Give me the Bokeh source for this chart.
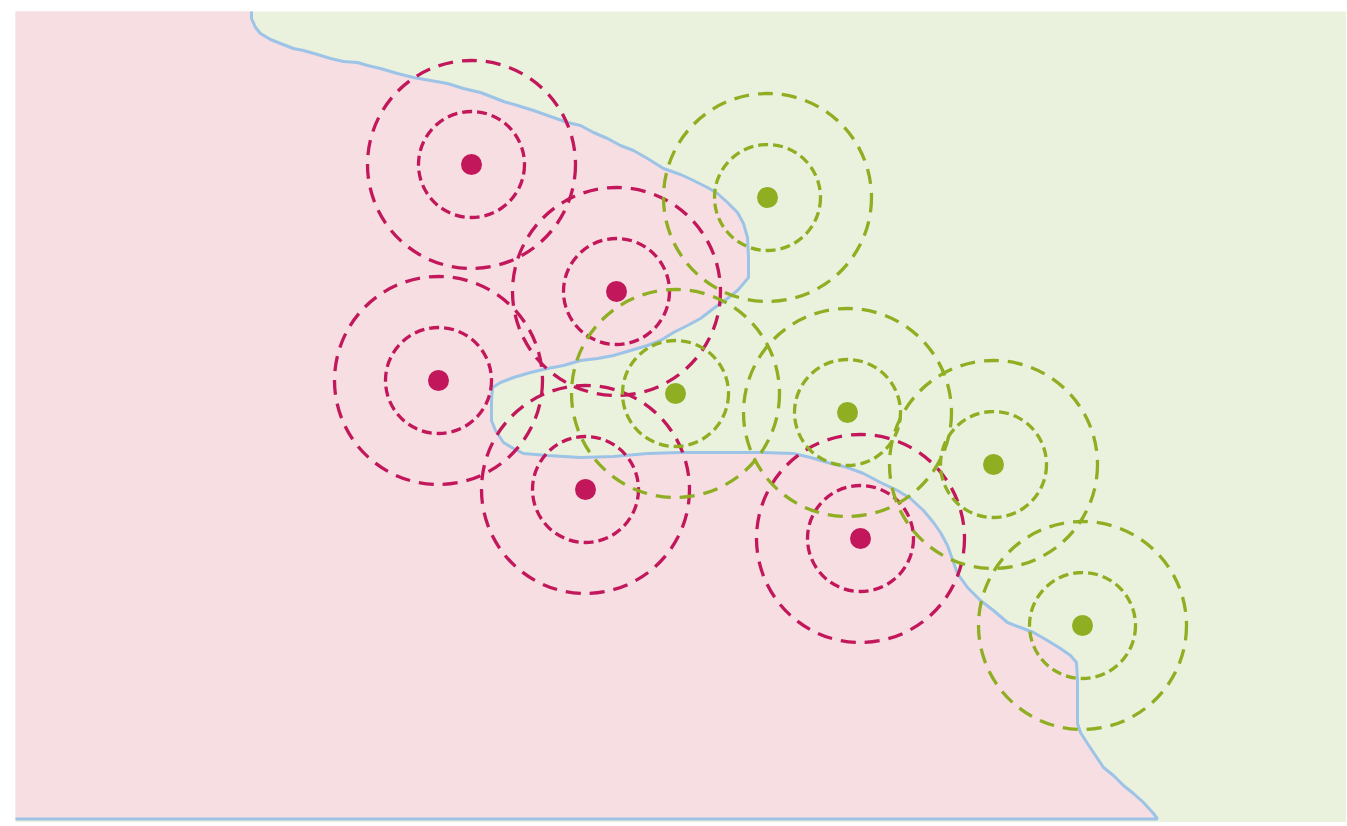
from bokeh.plotting import figure
from bokeh.models import Range1d
from bokeh.embed import file_html
from bokeh.resources import INLINE

# Class A (crimson) and class B (olive) sample points
red_x = [4.56, 6.01, 4.23, 5.70, 8.45]
red_y = [6.58, 5.31, 4.42, 3.33, 2.84]
green_x = [7.52, 6.60, 8.32, 9.78, 10.67]
green_y = [6.25, 4.29, 4.10, 3.58, 1.97]

inner_radius = 0.53
outer_radius = 1.04

# Decision boundary
boundary_x = [2.36, 2.36, 2.40, 2.45, 2.55, 2.65, 2.78, 2.88, 3.02, 3.15, 3.28, 3.42, 3.52, 3.65,
              3.82, 3.98, 4.15, 4.32, 4.48, 4.65, 4.78, 4.88, 5.02, 5.18, 5.35, 5.52, 5.65, 5.78,
              5.92, 6.05, 6.18, 6.32, 6.48, 6.65, 6.78, 6.92, 7.02, 7.12, 7.22, 7.28, 7.32, 7.33,
              7.33, 7.28, 7.22, 7.12, 6.98, 6.85, 6.72, 6.58, 6.45, 6.32, 6.15, 5.98, 5.82, 5.65,
              5.48, 5.32, 5.15, 4.98, 4.85, 4.77, 4.76, 4.76, 4.80, 4.88, 4.98, 5.08, 5.32, 5.65,
              5.98, 6.32, 6.65, 6.98, 7.45, 7.78, 7.95, 8.12, 8.32, 8.48, 8.65, 8.82, 8.95, 9.08,
              9.18, 9.25, 9.32, 9.38, 9.42, 9.52, 9.65, 9.78, 9.92, 10.05, 10.18, 10.32, 10.45,
              10.55, 10.61, 10.62, 10.62, 10.62, 10.65, 10.72, 10.78, 10.88, 10.98, 11.08, 11.18,
              11.28, 11.38, 11.42, -0.20]
boundary_y = [8.20, 8.04, 7.95, 7.89, 7.83, 7.79, 7.74, 7.72, 7.68, 7.64, 7.61, 7.60, 7.57, 7.54,
              7.49, 7.45, 7.42, 7.39, 7.34, 7.30, 7.25, 7.21, 7.17, 7.12, 7.06, 7.00, 6.97, 6.90,
              6.84, 6.77, 6.72, 6.64, 6.54, 6.48, 6.42, 6.35, 6.29, 6.20, 6.10, 5.99, 5.85, 5.65,
              5.45, 5.39, 5.32, 5.24, 5.14, 5.04, 4.97, 4.90, 4.82, 4.77, 4.72, 4.67, 4.64, 4.62,
              4.57, 4.54, 4.50, 4.45, 4.40, 4.35, 4.22, 4.02, 3.92, 3.80, 3.74, 3.69, 3.67, 3.65,
              3.66, 3.69, 3.70, 3.70, 3.70, 3.69, 3.65, 3.60, 3.55, 3.49, 3.40, 3.32, 3.24, 3.12,
              3.00, 2.90, 2.77, 2.60, 2.49, 2.35, 2.22, 2.12, 2.00, 1.95, 1.90, 1.82, 1.74,
              1.67, 1.60, 1.42, 1.22, 0.99, 0.90, 0.79, 0.70, 0.55, 0.47, 0.37, 0.29,
              0.20, 0.09, 0.035, 0.035]

PINK = "#f7dee2"
LIGHT_GREEN = "#eaf2de"
BLUE = "#9dc3e6"
RED = "#c2185b"
GREEN = "#8fae22"

p = figure(frame_width=1331, frame_height=811,
           x_range=Range1d(0, 13.31), y_range=Range1d(0, 8.11),
           x_axis_type=None, y_axis_type=None,
           output_backend="svg", toolbar_location=None,
           min_border_left=15, min_border_top=11, min_border_right=0, min_border_bottom=0)
p.grid.visible = False
p.outline_line_color = None
p.background_fill_color = LIGHT_GREEN
p.border_fill_color = "white"

# Pink region polygon: boundary plus the left/top corners outside the frame
region_x = boundary_x + [-0.20]
region_y = boundary_y + [8.20]
p.patch(region_x, region_y, fill_color=PINK, line_color=None)
p.line(boundary_x, boundary_y, line_color=BLUE, line_width=3)

for xs, ys, col in [(red_x, red_y, RED), (green_x, green_y, GREEN)]:
    p.circle(xs, ys, radius=outer_radius, fill_color=None, line_color=col,
             line_width=3.3, line_dash="15 9")
    p.circle(xs, ys, radius=inner_radius, fill_color=None, line_color=col,
             line_width=3.3, line_dash="10 5")
    p.scatter(xs, ys, size=21, fill_color=col, line_color=None)

open("out.html", "w").write(file_html(p, INLINE))
